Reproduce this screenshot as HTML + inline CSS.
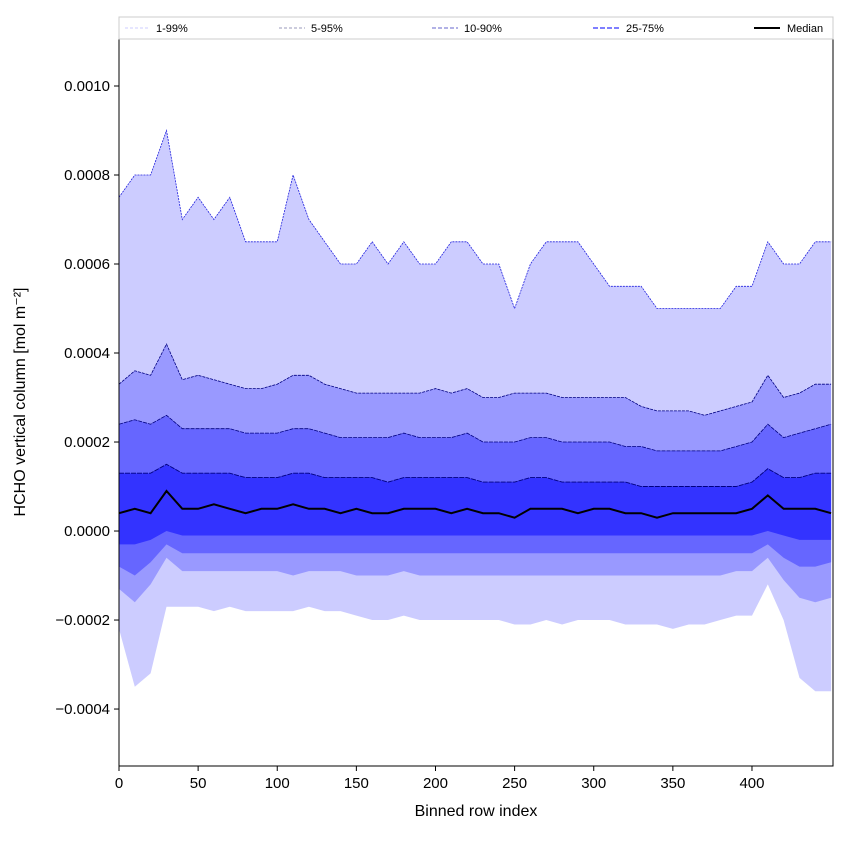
<!DOCTYPE html>
<html><head><meta charset="utf-8">
<style>
body{margin:0;background:#fff;}
svg{display:block;font-family:"Liberation Sans","DejaVu Sans",sans-serif;}
</style></head>
<body>
<svg id="chart" width="850" height="850" viewBox="0 0 850 850" xmlns="http://www.w3.org/2000/svg">
<g id="bands"></g>
<g id="lines"></g>
<rect x="119" y="39" width="714" height="727" fill="none" stroke="#000" stroke-width="1"/>
<g id="xticks"></g>
<g id="yticks"></g>
<text x="476" y="816" font-size="16" text-anchor="middle">Binned row index</text>
<text transform="translate(25,402) rotate(-90)" font-size="16" text-anchor="middle">HCHO vertical column [mol m⁻²]</text>
<g>
<rect x="119" y="17" width="714" height="22" fill="#fff" stroke="#ccc" stroke-width="1"/>
<g><line x1="125" y1="28" x2="150" y2="28" stroke="#ccccff" stroke-width="1" stroke-dasharray="3,2"/><text x="156" y="32" font-size="11">1-99%</text></g>
<g><line x1="279" y1="28" x2="305" y2="28" stroke="#9999bb" stroke-width="1" stroke-dasharray="3,2"/><text x="311" y="32" font-size="11">5-95%</text></g>
<g><line x1="432" y1="28" x2="458" y2="28" stroke="#6666cc" stroke-width="1" stroke-dasharray="4,2"/><text x="464" y="32" font-size="11">10-90%</text></g>
<g><line x1="593" y1="28" x2="619" y2="28" stroke="#3333ff" stroke-width="1.2" stroke-dasharray="5,2"/><text x="626" y="32" font-size="11">25-75%</text></g>
<g><line x1="754" y1="28" x2="780" y2="28" stroke="#000" stroke-width="2"/><text x="787" y="32" font-size="11">Median</text></g>
</g>
</svg>
<script>
const rows = [0,10,20,30,40,50,60,70,80,90,100,110,120,130,140,150,160,170,180,190,200,210,220,230,240,250,260,270,280,290,300,310,320,330,340,350,360,370,380,390,400,410,420,430,440,450];
const p99 = [7.5,8.0,8.0,9.0,7.0,7.5,7.0,7.5,6.5,6.5,6.5,8.0,7.0,6.5,6.0,6.0,6.5,6.0,6.5,6.0,6.0,6.5,6.5,6.0,6.0,5.0,6.0,6.5,6.5,6.5,6.0,5.5,5.5,5.5,5.0,5.0,5.0,5.0,5.0,5.5,5.5,6.5,6.0,6.0,6.5,6.5];
const p95 = [3.3,3.6,3.5,4.2,3.4,3.5,3.4,3.3,3.2,3.2,3.3,3.5,3.5,3.3,3.2,3.1,3.1,3.1,3.1,3.1,3.2,3.1,3.2,3.0,3.0,3.1,3.1,3.1,3.0,3.0,3.0,3.0,3.0,2.8,2.7,2.7,2.7,2.6,2.7,2.8,2.9,3.5,3.0,3.1,3.3,3.3];
const p90 = [2.4,2.5,2.4,2.6,2.3,2.3,2.3,2.3,2.2,2.2,2.2,2.3,2.3,2.2,2.1,2.1,2.1,2.1,2.2,2.1,2.1,2.1,2.2,2.0,2.0,2.0,2.1,2.1,2.0,2.0,2.0,2.0,1.9,1.9,1.8,1.8,1.8,1.8,1.8,1.9,2.0,2.4,2.1,2.2,2.3,2.4];
const p75 = [1.3,1.3,1.3,1.5,1.3,1.3,1.3,1.3,1.2,1.2,1.2,1.3,1.3,1.2,1.2,1.2,1.2,1.1,1.2,1.2,1.2,1.2,1.2,1.1,1.1,1.1,1.2,1.2,1.1,1.1,1.1,1.1,1.1,1.0,1.0,1.0,1.0,1.0,1.0,1.0,1.1,1.4,1.2,1.2,1.3,1.3];
const median = [0.4,0.5,0.4,0.9,0.5,0.5,0.6,0.5,0.4,0.5,0.5,0.6,0.5,0.5,0.4,0.5,0.4,0.4,0.5,0.5,0.5,0.4,0.5,0.4,0.4,0.3,0.5,0.5,0.5,0.4,0.5,0.5,0.4,0.4,0.3,0.4,0.4,0.4,0.4,0.4,0.5,0.8,0.5,0.5,0.5,0.4];
const p25 = [-0.3,-0.3,-0.2,0.0,-0.1,-0.1,-0.1,-0.1,-0.1,-0.1,-0.1,-0.1,-0.1,-0.1,-0.1,-0.1,-0.1,-0.1,-0.1,-0.1,-0.1,-0.1,-0.1,-0.1,-0.1,-0.1,-0.1,-0.1,-0.1,-0.1,-0.1,-0.1,-0.1,-0.1,-0.1,-0.1,-0.1,-0.1,-0.1,-0.1,-0.1,0.0,-0.1,-0.2,-0.2,-0.2];
const p10 = [-0.8,-1.0,-0.7,-0.3,-0.5,-0.5,-0.5,-0.5,-0.5,-0.5,-0.5,-0.5,-0.5,-0.5,-0.5,-0.5,-0.5,-0.5,-0.5,-0.5,-0.5,-0.5,-0.5,-0.5,-0.5,-0.5,-0.5,-0.5,-0.5,-0.5,-0.5,-0.5,-0.5,-0.5,-0.5,-0.5,-0.5,-0.5,-0.5,-0.5,-0.5,-0.3,-0.6,-0.8,-0.8,-0.7];
const p5 = [-1.3,-1.6,-1.2,-0.6,-0.9,-0.9,-0.9,-0.9,-0.9,-0.9,-0.9,-1.0,-0.9,-0.9,-0.9,-1.0,-1.0,-1.0,-0.9,-1.0,-1.0,-1.0,-1.0,-1.0,-1.0,-1.0,-1.0,-1.0,-1.0,-1.0,-1.0,-1.0,-1.0,-1.0,-1.0,-1.0,-1.0,-1.0,-1.0,-0.9,-0.9,-0.6,-1.1,-1.5,-1.6,-1.5];
const p1 = [-2.2,-3.5,-3.2,-1.7,-1.7,-1.7,-1.8,-1.7,-1.8,-1.8,-1.8,-1.8,-1.7,-1.8,-1.8,-1.9,-2.0,-2.0,-1.9,-2.0,-2.0,-2.0,-2.0,-2.0,-2.0,-2.1,-2.1,-2.0,-2.1,-2.0,-2.0,-2.0,-2.1,-2.1,-2.1,-2.2,-2.1,-2.1,-2.0,-1.9,-1.9,-1.2,-2.0,-3.3,-3.6,-3.6];
const xTickValues = [0,50,100,150,200,250,300,350,400];
const yTickValues = [-4,-2,0,2,4,6,8,10];
const yTickLabels = ["\u22120.0004","\u22120.0002","0.0000","0.0002","0.0004","0.0006","0.0008","0.0010"];

const NS = "http://www.w3.org/2000/svg";
const X0 = 119, X1 = 833, Y0 = 39, Y1 = 766;
const xMin = 0, xMax = 451.2, yMin = -5.28, yMax = 11.056;
function xs(v){ return X0 + (v - xMin) / (xMax - xMin) * (X1 - X0); }
function ys(v){ return Y1 - (v - yMin) / (yMax - yMin) * (Y1 - Y0); }
function pts(arr){ return arr.map((v,i)=>xs(Math.min(rows[i],xMax)).toFixed(1)+","+ys(v).toFixed(1)); }

const bands = document.getElementById("bands");
const bandDefs = [[p1,p99,"#ccccff","band-1-99"],[p5,p95,"#9999ff","band-5-95"],[p10,p90,"#6666ff","band-10-90"],[p25,p75,"#3333ff","band-25-75"]];
bandDefs.forEach(d=>{
  const poly = document.createElementNS(NS,"polygon");
  poly.setAttribute("points", pts(d[1]).concat(pts(d[0]).reverse()).join(" "));
  poly.setAttribute("fill", d[2]);
  
  
  bands.appendChild(poly);
});

const lines = document.getElementById("lines");
const lineDefs = [[p99,"#2222dd",0.8,"2,1","line-p99"],[p95,"#000080",0.8,"3,1","line-p95"],[p90,"#000080",0.8,"4,1","line-p90"],[p75,"#000080",0.9,"5,1","line-p75"]];
lineDefs.forEach(d=>{
  const pl = document.createElementNS(NS,"polyline");
  pl.setAttribute("points", pts(d[0]).join(" "));
  pl.setAttribute("fill","none");
  pl.setAttribute("stroke",d[1]);
  pl.setAttribute("stroke-width",d[2]);
  pl.setAttribute("stroke-dasharray",d[3]);
  
  
  lines.appendChild(pl);
});
const med = document.createElementNS(NS,"polyline");
med.setAttribute("points", pts(median).join(" "));
med.setAttribute("fill","none");
med.setAttribute("stroke","#000");
med.setAttribute("stroke-width","2");


lines.appendChild(med);

const xt = document.getElementById("xticks");
xTickValues.forEach(v=>{
  const l = document.createElementNS(NS,"line");
  l.setAttribute("x1",xs(v)); l.setAttribute("x2",xs(v));
  l.setAttribute("y1",Y1); l.setAttribute("y2",Y1+5);
  l.setAttribute("stroke","#000");
  
  
  xt.appendChild(l);
  const t = document.createElementNS(NS,"text");
  t.setAttribute("x",xs(v)); t.setAttribute("y",Y1+22);
  t.setAttribute("font-size","15"); t.setAttribute("text-anchor","middle");
  t.textContent = v;
  
  
  xt.appendChild(t);
});
const yt = document.getElementById("yticks");
yTickValues.forEach((v,i)=>{
  const l = document.createElementNS(NS,"line");
  l.setAttribute("x1",X0-5); l.setAttribute("x2",X0);
  l.setAttribute("y1",ys(v)); l.setAttribute("y2",ys(v));
  l.setAttribute("stroke","#000");
  
  
  yt.appendChild(l);
  const t = document.createElementNS(NS,"text");
  t.setAttribute("x",X0-9); t.setAttribute("y",ys(v)+5);
  t.setAttribute("font-size","15"); t.setAttribute("text-anchor","end");
  t.textContent = yTickLabels[i];
  
  
  yt.appendChild(t);
});
</script>
</body></html>
